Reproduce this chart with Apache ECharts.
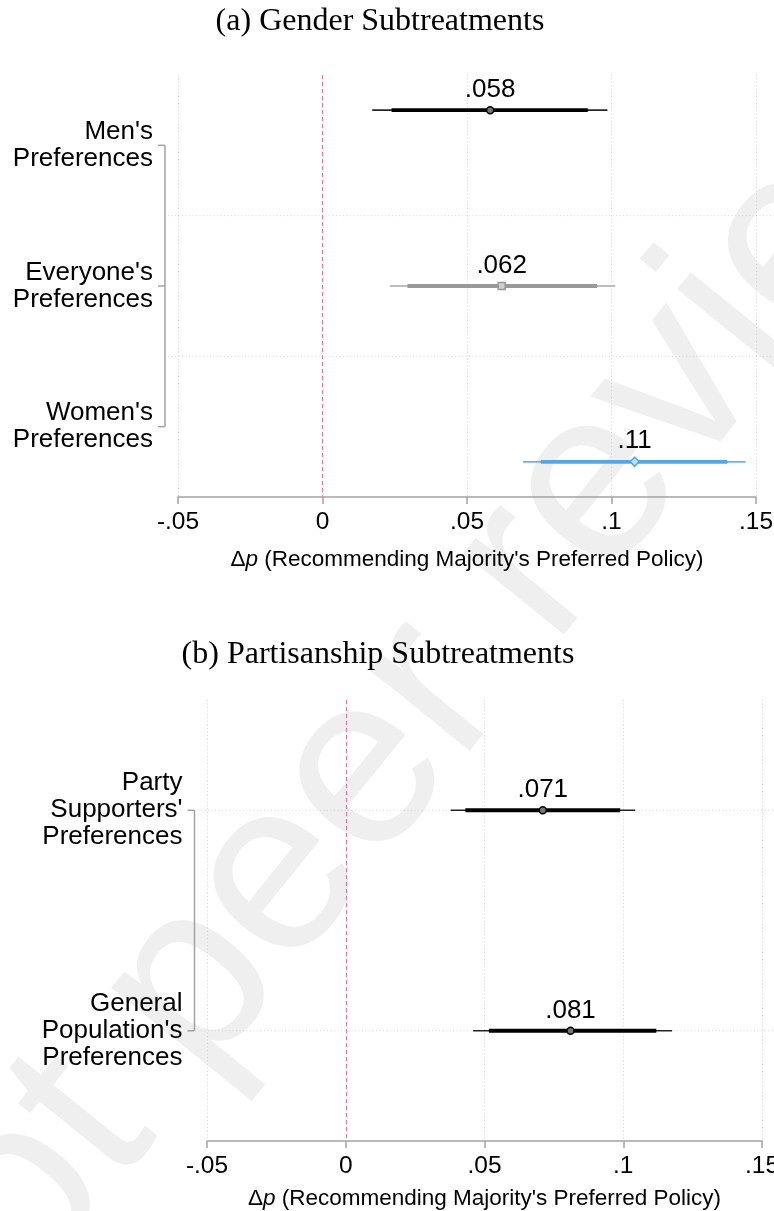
<!DOCTYPE html>
<html><head><meta charset="utf-8">
<script src="https://cdn.jsdelivr.net/npm/echarts@6/dist/echarts.min.js"></script>
<style>html,body{margin:0;padding:0;background:#fff}#c{width:774px;height:1211px}</style>
</head><body><div id="c"></div>
<script>
// ---------- data : panel (a) Gender Subtreatments ----------
const genderCategories = ["Men's\nPreferences", "Everyone's\nPreferences", "Women's\nPreferences"];
const genderRows = [1, 2, 3];
const genderLabelPos = [1.2, 2, 2.8];
const genderGridPos = [1.6, 2.4];
const genderEst  = [0.058, 0.062, 0.108];
const genderLo95 = [0.0172, 0.0233, 0.0694];
const genderHi95 = [0.0986, 0.1013, 0.1464];
const genderLo90 = [0.0239, 0.0294, 0.0756];
const genderHi90 = [0.0918, 0.0950, 0.1401];

// ---------- data : panel (b) Partisanship Subtreatments ----------
const partyCategories = ["Party\nSupporters'\nPreferences", "General\nPopulation's\nPreferences"];
const partyRows = [1, 2];
const partyLabelPos = [1, 2];
const partyGridPos = [1, 2];
const partyEst  = [0.071, 0.081];
const partyLo95 = [0.0378, 0.0459];
const partyHi95 = [0.1043, 0.1176];
const partyLo90 = [0.0431, 0.0516];
const partyHi90 = [0.0989, 0.1119];

// ---------- tick labels ----------
const xTicks = [-0.05, 0, 0.05, 0.1, 0.15];
const xTickLabels = ['-.05', '0', '.05', '.1', '.15'];
const axisTitle = "{d|Δ}{i|p} (Recommending Majority's Preferred Policy)";
const titleA = '(a) Gender Subtreatments';
const titleB = '(b) Partisanship Subtreatments';
const watermark = 'not peer reviewed';

// ---------- styles ----------
const SANS = "'Liberation Sans', Arial, Helvetica, sans-serif";
const SERIF = "'Liberation Serif', 'Times New Roman', serif";
const AXIS_COL = '#a3a3a3';
const GRID_COL = '#d3d3d3';
const genderColors = ['#000000', '#999999', '#52a8e6'];
const genderFills  = ['#777777', '#cfcfcf', '#bfe0f6'];
const genderSymbols = ['circle', 'rect', 'diamond'];
const genderSizes = [7, 7, 9];

function fmtEst(v) { return String(Number(v.toPrecision(2))).replace(/^0\./, '.').replace(/^-0\./, '-.'); }
function xLabel(v) { const i = xTicks.findIndex(t => Math.abs(t - v) < 1e-9); return i < 0 ? '' : xTickLabels[i]; }
function yLabeler(pos, cats) {
  return function (v) {
    const i = pos.findIndex(p => Math.abs(p - v) < 1e-6);
    return i < 0 ? '' : cats[i];
  };
}

function ciRender(colors) {
  return function (params, api) {
    const y = api.value(0);
    const a = api.coord([api.value(1), y]), b = api.coord([api.value(2), y]);
    const c = api.coord([api.value(3), y]), d = api.coord([api.value(4), y]);
    const col = colors[params.dataIndex];
    return { type: 'group', children: [
      { type: 'line', shape: { x1: a[0], y1: a[1], x2: b[0], y2: b[1] }, style: { stroke: col, lineWidth: 1.6, opacity: 0.85 } },
      { type: 'line', shape: { x1: c[0], y1: c[1], x2: d[0], y2: d[1] }, style: { stroke: col, lineWidth: 3.8 } }
    ]};
  };
}

function frameRender(labelPos, gridPos, offset) {
  return function (params, api) {
    const W = api.getWidth();
    const xmin = xTicks[0];
    const top = api.coord([xmin, labelPos[0]]);
    const bot = api.coord([xmin, labelPos[labelPos.length - 1]]);
    const ax = top[0] - offset;
    const ch = [];
    gridPos.forEach(g => {
      const p = api.coord([xmin, g]);
      ch.push({ type: 'line', shape: { x1: ax + 3, y1: p[1], x2: W, y2: p[1] }, style: { stroke: GRID_COL, lineWidth: 1, lineDash: [1, 2.5] } });
    });
    ch.push({ type: 'line', shape: { x1: ax, y1: top[1], x2: ax, y2: bot[1] }, style: { stroke: AXIS_COL, lineWidth: 1.5 } });
    labelPos.forEach(l => {
      const p = api.coord([xmin, l]);
      ch.push({ type: 'line', shape: { x1: ax - 7, y1: p[1], x2: ax, y2: p[1] }, style: { stroke: AXIS_COL, lineWidth: 1.5 } });
    });
    return { type: 'group', children: ch };
  };
}

function makeXAxis(gridIndex, nameGap) {
  return {
    type: 'value', gridIndex, min: xTicks[0], max: xTicks[xTicks.length - 1], interval: 0.05,
    axisLine: { show: true, lineStyle: { color: AXIS_COL, width: 1.5 } },
    axisTick: { show: true, length: 7, lineStyle: { color: AXIS_COL, width: 1.5 } },
    axisLabel: { formatter: xLabel, fontSize: 24.5, color: '#000', fontFamily: SANS, margin: 13, showMinLabel: true, showMaxLabel: true },
    splitLine: { show: true, lineStyle: { color: GRID_COL, width: 1, type: [1, 2.5] } },
    name: axisTitle, nameLocation: 'middle', nameGap,
    nameTextStyle: { fontSize: 22.5, color: '#000', fontFamily: SANS,
      rich: { d: { fontSize: 22.5, fontFamily: SANS, color: '#000' }, i: { fontSize: 22.5, fontStyle: 'italic', fontFamily: SANS, color: '#000' } } }
  };
}

function makeYAxis(gridIndex, min, max, interval, pos, cats, offset) {
  return {
    type: 'value', gridIndex, min, max, interval, inverse: true, offset,
    axisLine: { show: false }, axisTick: { show: false }, splitLine: { show: false },
    axisLabel: { formatter: yLabeler(pos, cats), fontSize: 26, lineHeight: 27, color: '#000', fontFamily: SANS, margin: 12, showMinLabel: true, showMaxLabel: true }
  };
}

const pinkLine = {
  silent: true, symbol: ['none', 'none'], label: { show: false },
  lineStyle: { color: '#d97aa8', width: 1.2, type: [4, 3] }, data: [{ xAxis: 0 }]
};

const option = {
  backgroundColor: '#ffffff',
  animation: false,
  graphic: [
    { type: 'text', z: -5, x: 505, y: 600, rotation: 51 * Math.PI / 180,
      style: { text: watermark, fontSize: 245, fontFamily: SANS, fill: '#efefef', align: 'center', verticalAlign: 'middle' } },
    { type: 'text', x: 380, y: 22, style: { text: titleA, fontSize: 32, fontFamily: SERIF, fill: '#000', align: 'center', verticalAlign: 'middle' } },
    { type: 'text', x: 378, y: 655, style: { text: titleB, fontSize: 32, fontFamily: SERIF, fill: '#000', align: 'center', verticalAlign: 'middle' } }
  ],
  grid: [
    { left: 178, right: 18, top: 75, height: 422, outerBoundsMode: 'none', containLabel: false },
    { left: 207, right: 12, top: 700, height: 441, outerBoundsMode: 'none', containLabel: false }
  ],
  xAxis: [makeXAxis(0, 51), makeXAxis(1, 46)],
  yAxis: [
    makeYAxis(0, 0.8, 3.2, 0.4, genderLabelPos, genderCategories, 13),
    makeYAxis(1, 0.5, 2.5, 0.5, partyLabelPos, partyCategories, 12.5)
  ],
  series: [
    { type: 'custom', xAxisIndex: 0, yAxisIndex: 0, clip: false, silent: true, z: 1,
      renderItem: frameRender(genderLabelPos, genderGridPos, 13), encode: { x: 0, y: 1 }, data: [[xTicks[0], genderLabelPos[0]]] },
    { type: 'custom', xAxisIndex: 1, yAxisIndex: 1, clip: false, silent: true, z: 1,
      renderItem: frameRender(partyLabelPos, partyGridPos, 12.5), encode: { x: 0, y: 1 }, data: [[xTicks[0], partyLabelPos[0]]] },
    { type: 'custom', xAxisIndex: 0, yAxisIndex: 0, clip: false, z: 3,
      renderItem: ciRender(genderColors), encode: { x: [1, 2, 3, 4], y: 0 },
      data: genderRows.map((r, i) => [r, genderLo95[i], genderHi95[i], genderLo90[i], genderHi90[i]]) },
    { type: 'custom', xAxisIndex: 1, yAxisIndex: 1, clip: false, z: 3,
      renderItem: ciRender(['#000000', '#000000']), encode: { x: [1, 2, 3, 4], y: 0 },
      data: partyRows.map((r, i) => [r, partyLo95[i], partyHi95[i], partyLo90[i], partyHi90[i]]) },
    { type: 'scatter', xAxisIndex: 0, yAxisIndex: 0, z: 4,
      data: genderEst.map((e, i) => ({ value: [e, genderRows[i]], symbol: genderSymbols[i], symbolSize: genderSizes[i],
        itemStyle: { color: genderFills[i], borderColor: genderColors[i], borderWidth: 1.5, opacity: 1 } })),
      label: { show: true, position: 'top', distance: 3, formatter: p => fmtEst(p.value[0]), fontSize: 26, color: '#000', fontFamily: SANS },
      markLine: pinkLine },
    { type: 'scatter', xAxisIndex: 1, yAxisIndex: 1, z: 4,
      data: partyEst.map((e, i) => ({ value: [e, partyRows[i]], symbol: 'circle', symbolSize: 7,
        itemStyle: { color: '#777777', borderColor: '#000000', borderWidth: 1.5, opacity: 1 } })),
      label: { show: true, position: 'top', distance: 3, formatter: p => fmtEst(p.value[0]), fontSize: 26, color: '#000', fontFamily: SANS },
      markLine: pinkLine }
  ]
};

const chart = echarts.init(document.getElementById('c'), null, { renderer: 'canvas' });
chart.setOption(option);
</script>
</body></html>
